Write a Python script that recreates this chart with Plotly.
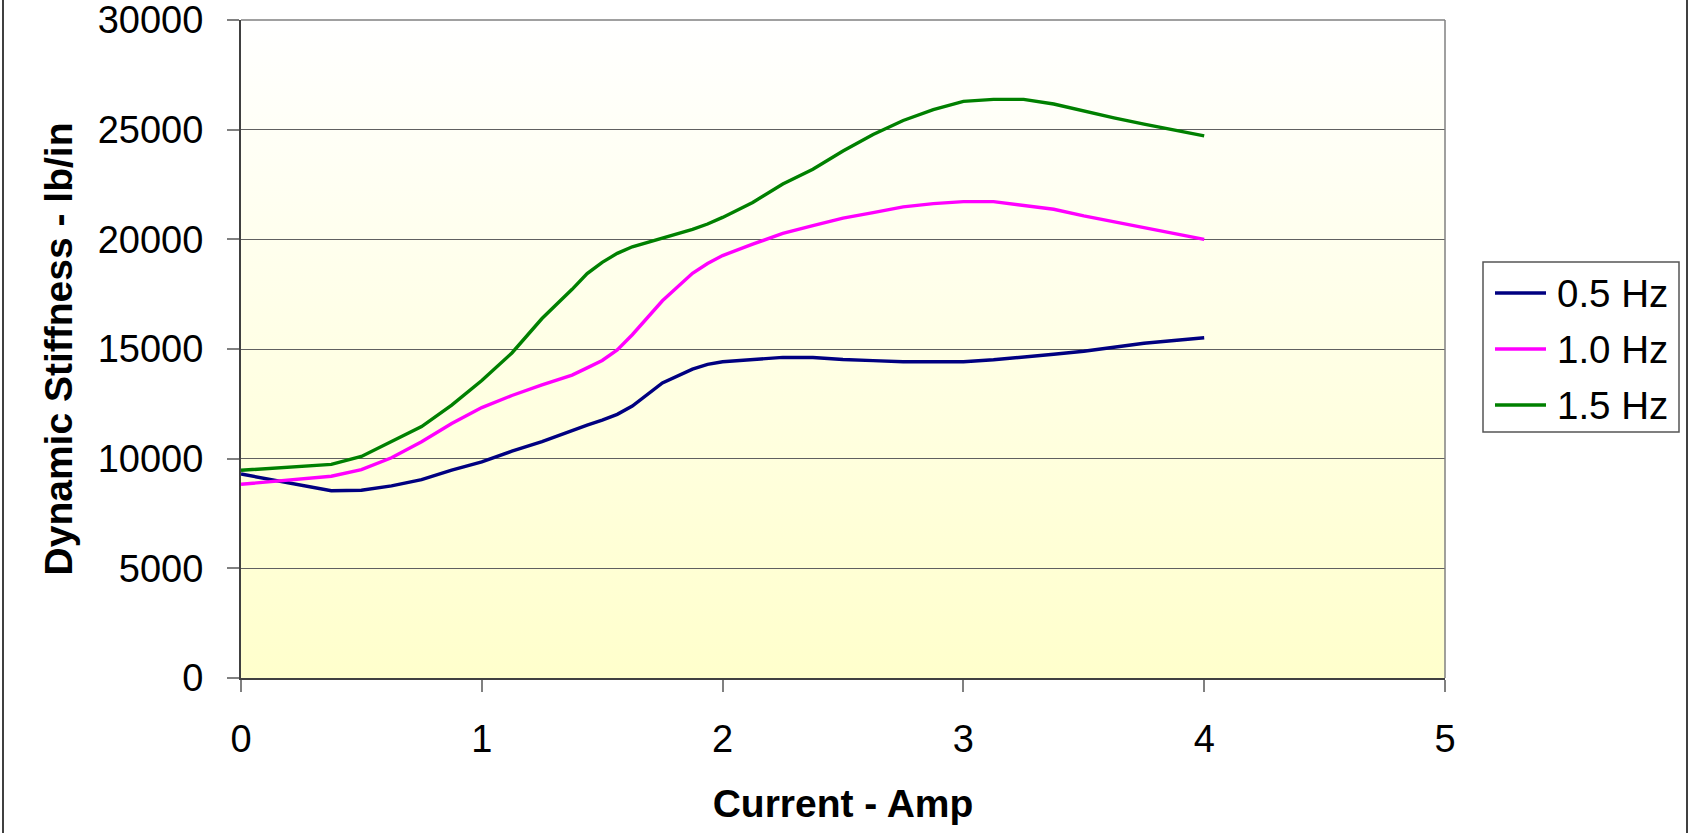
import base64
import plotly.graph_objects as go

# Current (A) and measured dynamic stiffness (lb/in) at three excitation frequencies
current_amp = [0, 0.375, 0.5, 0.625, 0.75, 0.875, 1.0, 1.125, 1.25, 1.375, 1.4375,
               1.5, 1.5625, 1.625, 1.75, 1.875, 1.9375, 2.0, 2.125, 2.25, 2.375,
               2.5, 2.625, 2.75, 2.875, 3.0, 3.125, 3.25, 3.375, 3.5, 3.625,
               3.75, 3.875, 4.0]

stiffness_05hz = [9300, 8540, 8560, 8760, 9040, 9480, 9850, 10340, 10780, 11300, 11530,
                  11760, 12020, 12400, 13450, 14080, 14300, 14420, 14530, 14620, 14610,
                  14520, 14470, 14420, 14420, 14420, 14510, 14620, 14760, 14900, 15070,
                  15260, 15390, 15510]

stiffness_10hz = [8830, 9200, 9500, 10040, 10770, 11600, 12330, 12880, 13360, 13810, 14140,
                  14480, 14960, 15650, 17200, 18450, 18900, 19260, 19780, 20270, 20630,
                  20970, 21220, 21480, 21630, 21720, 21720, 21560, 21370, 21070, 20800,
                  20530, 20270, 20000]

stiffness_15hz = [9470, 9740, 10100, 10780, 11460, 12440, 13560, 14820, 16390, 17720, 18440,
                  18950, 19360, 19660, 20050, 20450, 20700, 21000, 21680, 22520, 23200,
                  24030, 24780, 25420, 25910, 26290, 26380, 26380, 26170, 25850, 25540,
                  25250, 24980, 24720]

series_names = ["0.5 Hz", "1.0 Hz", "1.5 Hz"]
series_values = [stiffness_05hz, stiffness_10hz, stiffness_15hz]
series_colors = ["#000080", "#FF00FF", "#008000"]

x_tick_values = [0, 1, 2, 3, 4, 5]
y_tick_values = [0, 5000, 10000, 15000, 20000, 25000, 30000]

FONT = "Liberation Sans, Arial, sans-serif"

# page / plot-area geometry in pixels
PAGE_W, PAGE_H = 1690, 833
L, R, T, B = 241, 1445, 20, 678
W, H = R - L, B - T


def px(x):
    return (x - L) / W


def py(y):
    return (B - y) / H


fig = go.Figure()
for name, vals, col in zip(series_names, series_values, series_colors):
    fig.add_trace(go.Scatter(x=current_amp, y=vals, name=name, mode="lines",
                             line=dict(color=col, width=3.4), showlegend=False))

# soft white-to-yellow wash behind the plot area
grad_svg = (
    '<svg xmlns="http://www.w3.org/2000/svg" width="100" height="100" preserveAspectRatio="none">'
    '<defs><linearGradient id="g" x1="0" y1="0" x2="0" y2="1">'
    '<stop offset="0" stop-color="#FFFFFF"/><stop offset="1" stop-color="#FFFFCC"/>'
    '</linearGradient></defs><rect width="100" height="100" fill="url(#g)"/></svg>'
)
grad_uri = "data:image/svg+xml;base64," + base64.b64encode(grad_svg.encode()).decode()

shapes = [
    # top and right frame of the plot area
    dict(type="line", xref="paper", yref="paper", x0=0, x1=1, y0=1, y1=1,
         line=dict(color="#808080", width=1.5), layer="above"),
    dict(type="line", xref="paper", yref="paper", x0=1, x1=1, y0=0, y1=1,
         line=dict(color="#808080", width=1.5), layer="above"),
    # outer chart border (left / right)
    dict(type="line", xref="paper", yref="paper", x0=px(3), x1=px(3), y0=py(-5), y1=py(840),
         line=dict(color="#404040", width=2)),
    dict(type="line", xref="paper", yref="paper", x0=px(1687), x1=px(1687), y0=py(-5), y1=py(840),
         line=dict(color="#404040", width=2)),
    # legend box
    dict(type="rect", xref="paper", yref="paper", x0=px(1483), x1=px(1679), y0=py(262), y1=py(432),
         line=dict(color="#555555", width=1.5), fillcolor="white"),
]
annotations = []
legend_rows = [293, 349, 405]
for name, col, yrow in zip(series_names, series_colors, legend_rows):
    shapes.append(dict(type="line", xref="paper", yref="paper", x0=px(1495), x1=px(1546),
                       y0=py(yrow), y1=py(yrow), line=dict(color=col, width=3.4)))
    annotations.append(dict(text=name, xref="paper", yref="paper", x=px(1555), y=py(yrow),
                            xanchor="left", yanchor="middle", showarrow=False,
                            font=dict(family=FONT, size=38.5, color="black")))

fig.update_layout(
    width=PAGE_W, height=PAGE_H, autosize=False,
    margin=dict(l=L, r=PAGE_W - R, t=T, b=PAGE_H - B, pad=0, autoexpand=False),
    paper_bgcolor="white", plot_bgcolor="rgba(0,0,0,0)",
    font=dict(family=FONT, size=38, color="black"),
    images=[dict(source=grad_uri, xref="paper", yref="paper", x=0, y=1, sizex=1, sizey=1,
                 xanchor="left", yanchor="top", sizing="stretch", layer="below")],
    shapes=shapes,
    annotations=annotations,
    xaxis=dict(range=[0, 5], tickvals=x_tick_values, ticks="outside", ticklen=12,
               tickcolor="#808080", tickwidth=1.5, showgrid=False, zeroline=False,
               showline=True, linecolor="#404040", linewidth=2, automargin=False,
               ticklabelstandoff=14, ticklabeloverflow="allow",
               tickfont=dict(family=FONT, size=38, color="black"),
               title=dict(text="<b>Current - Amp</b>", standoff=31,
                          font=dict(family=FONT, size=39, color="black"))),
    yaxis=dict(range=[0, 30000], tickvals=y_tick_values, tickformat="d", ticks="outside",
               ticklen=12, tickcolor="#808080", tickwidth=1.5,
               showgrid=True, gridcolor="#606060", gridwidth=1.4, zeroline=False,
               showline=True, linecolor="#404040", linewidth=2, automargin=False,
               ticklabelstandoff=16, ticklabeloverflow="allow",
               tickfont=dict(family=FONT, size=38, color="black"),
               title=dict(text="<b>Dynamic Stiffness - lb/in</b>", standoff=13,
                          font=dict(family=FONT, size=39, color="black"))),
)

fig.write_html("out.html")
